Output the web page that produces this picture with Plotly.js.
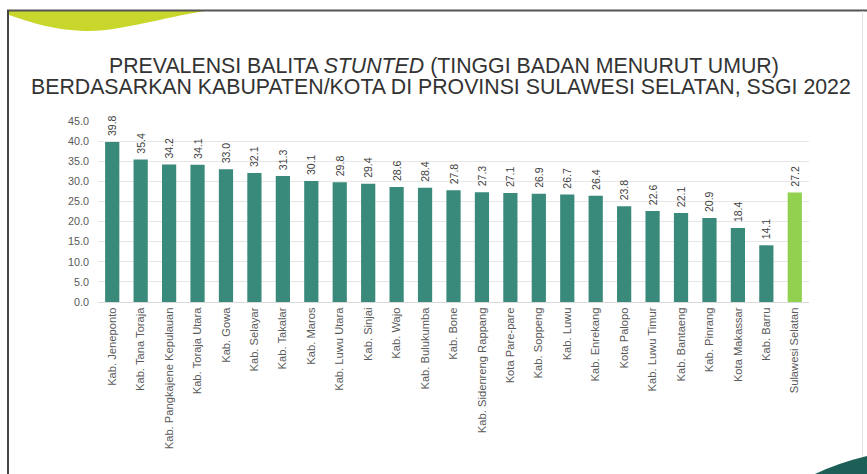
<!DOCTYPE html>
<html>
<head>
<meta charset="utf-8">
<script src="https://cdn.plot.ly/plotly-3.0.1.min.js"></script>
<style>
  html, body { margin: 0; padding: 0; background: #ffffff; }
  #wrap { position: relative; width: 867px; height: 474px; overflow: hidden; }
  #deco { position: absolute; left: 0; top: 0; }
  #chart { position: absolute; left: 0; top: 0; width: 867px; height: 474px; }
</style>
</head>
<body>
<div id="wrap">
  <svg id="deco" width="867" height="474" xmlns="http://www.w3.org/2000/svg">
    <path d="M 9 11 L 206 11 C 160 18, 125 30, 90 31 C 55 31, 30 22, 9 15 Z" fill="#c9d62b"/>
    <line x1="7" y1="10.5" x2="867" y2="10.5" stroke="#555555" stroke-width="2"/>
    <line x1="8" y1="10" x2="8" y2="474" stroke="#444444" stroke-width="2"/>
    <line x1="862.5" y1="11" x2="862.5" y2="474" stroke="#e2e2e2" stroke-width="1"/>
    <path d="M 815 474 Q 838 463 867 456 L 867 474 Z" fill="#1b5f56"/>
  </svg>
  <div id="chart"></div>
</div>
<script>
const categories = [
  "Kab. Jeneponto", "Kab. Tana Toraja", "Kab. Pangkajene Kepulauan", "Kab. Toraja Utara",
  "Kab. Gowa", "Kab. Selayar", "Kab. Takalar", "Kab. Maros", "Kab. Luwu Utara",
  "Kab. Sinjai", "Kab. Wajo", "Kab. Bulukumba", "Kab. Bone", "Kab. Sidenreng Rappang",
  "Kota Pare-pare", "Kab. Soppeng", "Kab. Luwu", "Kab. Enrekang", "Kota Palopo",
  "Kab. Luwu Timur", "Kab. Bantaeng", "Kab. Pinrang", "Kota Makassar", "Kab. Barru",
  "Sulawesi Selatan"
];
const values = [
  39.8, 35.4, 34.2, 34.1, 33.0, 32.1, 31.3, 30.1, 29.8, 29.4, 28.6, 28.4, 27.8, 27.3,
  27.1, 26.9, 26.7, 26.4, 23.8, 22.6, 22.1, 20.9, 18.4, 14.1, 27.2
];
const yTicks = [0, 5, 10, 15, 20, 25, 30, 35, 40, 45];
const titleLine1 = "PREVALENSI BALITA <i>STUNTED</i> (TINGGI BADAN MENURUT UMUR)";
const titleLine2 = "BERDASARKAN KABUPATEN/KOTA DI PROVINSI SULAWESI SELATAN, SSGI 2022";

const provinceName = "Sulawesi Selatan";
const colors = categories.map(c => c === provinceName ? "#92d050" : "#3a8a7c");

const trace = {
  type: "bar",
  x: categories,
  y: values,
  marker: { color: colors },
  texttemplate: "\u00a0%{y:.1f}",
  textposition: "outside",
  textangle: -90,
  constraintext: "none",
  cliponaxis: false,
  textfont: { family: "Liberation Sans, Arial, sans-serif", size: 10.5, color: "#404040" },
  hoverinfo: "x+y"
};

const titleFont = { family: "Liberation Sans, Arial, sans-serif", size: 21.3, color: "#333333" };

const layout = {
  width: 867,
  height: 474,
  margin: { l: 98, r: 58, t: 121, b: 172 },
  paper_bgcolor: "rgba(0,0,0,0)",
  plot_bgcolor: "rgba(0,0,0,0)",
  bargap: 0.5,
  showlegend: false,
  font: { family: "Liberation Sans, Arial, sans-serif", color: "#595959" },
  xaxis: {
    type: "category",
    tickangle: -90,
    tickfont: { size: 11.2, color: "#595959" },
    showgrid: false,
    showline: true,
    linecolor: "#d9d9d9",
    linewidth: 1,
    ticks: "",
    automargin: false
  },
  yaxis: {
    range: [0, 45],
    tickvals: yTicks,
    ticktext: yTicks.map(v => v.toFixed(1)),
    tickfont: { size: 10.8, color: "#595959" },
    showgrid: true,
    gridcolor: "#e6e6e6",
    gridwidth: 1,
    zeroline: false,
    ticks: "",
    ticklabelstandoff: 8,
    automargin: false
  },
  annotations: [
    {
      text: titleLine1, xref: "paper", yref: "paper", x: 0.487, y: 1.305,
      xanchor: "center", yanchor: "middle", showarrow: false, font: titleFont
    },
    {
      text: titleLine2, xref: "paper", yref: "paper", x: 0.483, y: 1.19,
      xanchor: "center", yanchor: "middle", showarrow: false, font: titleFont
    }
  ]
};

Plotly.newPlot("chart", [trace], layout, { displayModeBar: false, staticPlot: true });
</script>
</body>
</html>
